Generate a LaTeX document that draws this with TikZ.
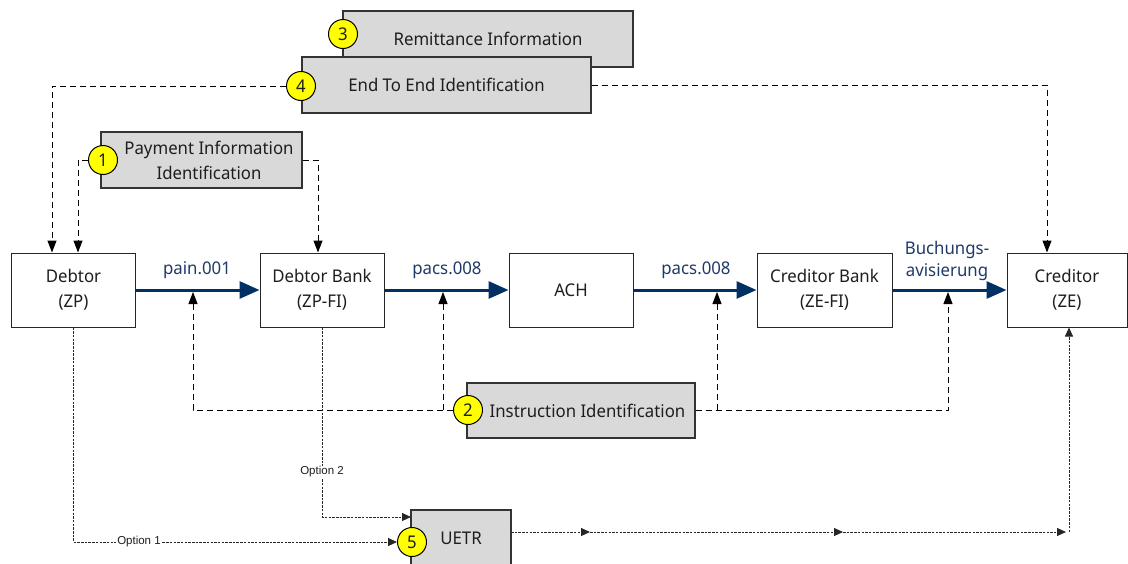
\documentclass[tikz,border=0pt]{standalone}
\usepackage{fontspec}
\setmainfont{Noto Sans}[FakeStretch=0.96]
\newfontfamily\optfont{Liberation Sans}
\usetikzlibrary{arrows.meta}
\definecolor{flowblue}{RGB}{0,48,100}
\definecolor{lblblue}{RGB}{31,58,104}
\definecolor{boxgray}{RGB}{217,217,217}
\definecolor{badgeyellow}{RGB}{255,255,0}
\definecolor{ink}{RGB}{30,30,30}
\begin{document}
\begin{tikzpicture}[x=1pt,y=-1pt,
  txt/.style={font=\fontsize{17.5}{25}\selectfont, text=ink},
  party/.style={txt, draw=black!85, line width=1pt, fill=white, minimum height=74pt, align=center, inner sep=0pt},
  infobox/.style={txt, draw=black!80, line width=1.2pt, fill=boxgray, align=center, inner sep=0pt},
  numbadge/.style={circle, draw=black, line width=1pt, fill=badgeyellow, minimum size=29pt, inner sep=0pt, txt},
  flow/.style={draw=flowblue, line width=3pt, -{Triangle[length=20pt,width=17pt]}},
  flowlbl/.style={font=\fontsize{17.5}{22}\selectfont, text=lblblue, align=center, inner sep=0pt},
  ref/.style={draw=black, line width=1pt, dash pattern=on 6pt off 4pt, -{Triangle[length=12pt,width=9pt]}},
  fine/.style={draw=black!85, line width=0.9pt, dash pattern=on 2.5pt off 1.2pt},
  finearr/.style={fine, -{Triangle[length=9pt,width=8pt]}},
  optlbl/.style={font=\optfont\fontsize{11.5}{13}\selectfont, fill=white, inner sep=1pt, text=ink},
]
\useasboundingbox (0,0) rectangle (1128,563);
\clip (0,0) rectangle (1128,563);

% main parties
\node[party, minimum width=124pt] (debtor)   at (73.5,290)  {Debtor\\(ZP)};
\node[party, minimum width=124pt] (dbank)    at (322,290)   {Debtor Bank\\(ZP-FI)};
\node[party, minimum width=124pt] (ach)      at (571,290)   {ACH};
\node[party, minimum width=135pt] (cbank)    at (824.5,290) {Creditor Bank\\(ZE-FI)};
\node[party, minimum width=120pt] (creditor) at (1067,290)  {Creditor\\(ZE)};

% message flows
\draw[flow] (debtor) -- (dbank);
\draw[flow] (dbank) -- (ach);
\draw[flow] (ach) -- (cbank);
\draw[flow] (cbank) -- (creditor);
\node[flowlbl] (lbl1) at (197,270) {pain.001};
\node[flowlbl] (lbl2) at (447,270) {pacs.008};
\node[flowlbl] (lbl3) at (696,270) {pacs.008};
\node[flowlbl] (lbl4) at (947,261) {Buchungs-\\avisierung};

% info boxes
\node[infobox, minimum width=290pt, minimum height=56pt] (remit) at (488,39) {Remittance Information};
\node[numbadge] (n3) at (343,34) {3};
\node[infobox, minimum width=289pt, minimum height=56pt] (e2e) at (446.5,85) {End To End Identification};
\node[numbadge] (n4) at (301,86) {4};
\node[infobox, minimum width=201pt, minimum height=56pt] (pinfo) at (201.5,160) {\hspace*{15pt}Payment Information\\\hspace*{15pt}Identification};
\node[numbadge] (n1) at (103,160) {1};
\node[infobox, minimum width=228pt, minimum height=55pt] (instr) at (581,410.5) {\hspace*{13pt}Instruction Identification};
\node[numbadge] (n2) at (468,410) {2};
\node[infobox, minimum width=100pt, minimum height=57pt] (uetr) at (461,538.5) {UETR};
\node[numbadge] (n5) at (412,542) {5};

% helper coordinates
\coordinate (xA) at (52,0);
\coordinate (xB) at (78,0);
\coordinate (xC) at (318,0);
\coordinate (xD) at (1047,0);
\coordinate (t1) at (193,292);
\coordinate (t2) at (443,292);
\coordinate (t3) at (717,292);
\coordinate (t4) at (948,292);
\coordinate (j2) at (443,410);
\coordinate (j3) at (717,410);

% reference connectors
\draw[ref] (n4.west) -| (debtor.north -| xA);
\draw[ref] (e2e.east) -| (creditor.north -| xD);
\draw[ref] (n1.west) -| (debtor.north -| xB);
\draw[ref] (pinfo.east) -| (dbank.north -| xC);
\draw[ref] (n2.west) -| (t1);
\draw[ref] (j2) -- (t2);
\draw[ref] (instr.east) -| (t4);
\draw[ref] (j3) -- (t3);

% UETR options
\coordinate (uin2) at (411,517);
\draw[finearr] (debtor.south) |- (n5.west);
\node[optlbl] (opt1) at (139,542) {Option 1};
\draw[finearr] (dbank.south) |- (uin2);
\node[optlbl] (opt2) at (322,472) {Option 2};

\coordinate (ue) at (511,532);
\coordinate (k1) at (590,532);
\coordinate (k2) at (843,532);
\coordinate (k3) at (1066,532);
\coordinate (k3c) at (1069,532);
\draw[finearr] (ue) -- (k1);
\draw[finearr] (k1) -- (k2);
\draw[finearr] (k2) -- (k3);
\draw[finearr] (k3c) -- (creditor.south -| k3c);
\end{tikzpicture}
\end{document}
